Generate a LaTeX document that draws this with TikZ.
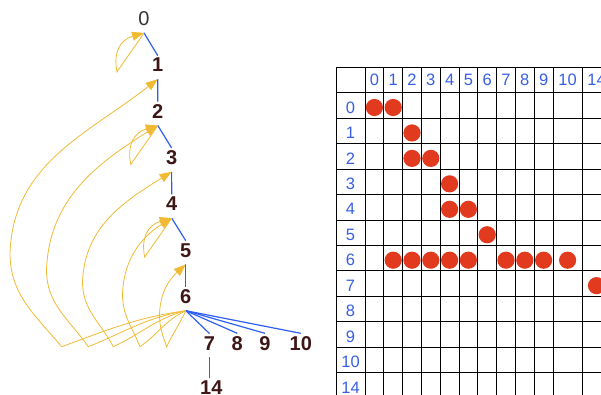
\documentclass[tikz,border=0pt]{standalone}
\usepackage{fontspec}
\setmainfont{Liberation Sans}
\usetikzlibrary{arrows.meta,calc}

\definecolor{backyellow}{RGB}{241,186,52}
\definecolor{treeblue}{RGB}{45,95,240}
\definecolor{numtext}{RGB}{62,22,22}
\definecolor{roottext}{RGB}{50,50,50}
\definecolor{labblue}{RGB}{55,95,228}
\definecolor{dotred}{RGB}{226,58,30}

\tikzset{
  num/.style={font=\fontsize{20}{22}\selectfont\bfseries,text=numtext,
    inner sep=2.5pt,text depth=4.5pt,anchor=base},
  rootnum/.style={num,font=\fontsize{20}{22}\selectfont,text=roottext},
  link/.style={treeblue,line width=1.2pt},
  back/.style={backyellow,line width=0.8pt,-{Triangle[length=12pt,width=9pt]}},
  lab/.style={font=\fontsize{16.5}{18}\selectfont,text=labblue,inner sep=0pt},
  cell/.style={draw=black,line width=1pt},
  hit/.style={fill=dotred}
}

\begin{document}
\begin{tikzpicture}[x=1pt,y=1pt]
  \useasboundingbox (0,0) rectangle (601,394);
  \clip (0,0) rectangle (601,394);

  % adjacency table
  \foreach \i in {0,...,13}
    \draw[cell] (336,{326.7-25.45*\i}) -- (620,{326.7-25.45*\i});
  \foreach \x in {336,365,383.8,402.6,421.4,440.2,459,477.8,496.6,515.4,534.2,553,582}
    \draw[cell] (\x,326.7) -- (\x,-10);

  \foreach \c [count=\i from 0] in {0,...,9}
    \node[lab] (c\c) at ({374.4+18.8*\i},314) {\c};
  \node[lab] (c10) at (567.6,314) {10};
  \node[lab] (c14) at (596.5,314) {14};
  \foreach \r [count=\i from 0] in {0,1,2,3,4,5,6,7,8,9,10,14}
    \node[lab] (r\r) at (350.5,{286.5-25.45*\i}) {\r};

  \foreach \r/\c in {0/0,0/1,1/2,2/2,2/3,3/4,4/4,4/5,5/6,6/1,6/2,6/3,6/4,6/5,6/7,6/8,6/9,6/10,7/14}
    \fill[hit] (c\c |- r\r) circle (8.6);

  % tree
  \node[rootnum] (n0) at (144,368.3) {0};
  \node[num] (n1) at (157.7,322) {1};
  \node[num] (n2) at (157.8,275.7) {2};
  \node[num] (n3) at (171.6,229.4) {3};
  \node[num] (n4) at (171.7,183.1) {4};
  \node[num] (n5) at (185.8,136.8) {5};
  \node[num] (n6) at (185.8,90.5) {6};
  \node[num] (n7) at (209.5,44) {7};
  \node[num] (n8) at (237.3,44) {8};
  \node[num] (n9) at (265,44) {9};
  \node[num] (n10) at (300.8,44) {10};
  \node[num] (n14) at (211.3,-0.3) {14};

  \draw[link] (n0.south) -- (n1.north);
  \draw[link] (n1.south) -- (n2.north);
  \draw[link] (n2.south) -- (n3.north);
  \draw[link] (n3.south) -- (n4.north);
  \draw[link] (n4.south) -- (n5.north);
  \draw[link] (n5.south) -- (n6.north);
  \foreach \k in {7,8,9,10}
    \draw[link] (n6.south) -- (n\k.north);
  \draw[link] (n7.south) -- (n7.south |- n14.north);

  % back edges
  \draw[back] (n6.south) to[out=188,in=20] (61.7,47.3) to[out=130,in=-90] (10,141)
    to[out=88,in=218] (n1.south);
  \draw[back] (n6.south) to[out=190,in=22] (88.3,47.3) to[out=125,in=-90] (46.5,124)
    to[out=88,in=212] (n2.south);
  \draw[back] (n6.south) to[out=195,in=25] (113.3,47.3) to[out=118,in=-90] (82.5,112)
    to[out=88,in=212] (n3.south);
  \draw[back] (n6.south) to[out=205,in=35] (140,47.3) to[out=112,in=-90] (122.5,100)
    to[out=88,in=212] (n4.south);
  \draw[back] (n6.south) to[out=245,in=65] (166.7,47.3) to[out=110,in=-90] (159.5,80)
    to[out=88,in=222] (n5.south);
  \foreach \k in {0,2,4}
    \draw[back] (n\k.south) .. controls ($(n\k.south)+(-8,-12)$) and ($(n\k.south)+(-21,-30)$)
      .. ($(n\k.south)+(-27,-39)$) .. controls ($(n\k.south)+(-31,-20)$) and ($(n\k.south)+(-24,-7)$)
      .. (n\k.south);
\end{tikzpicture}
\end{document}
